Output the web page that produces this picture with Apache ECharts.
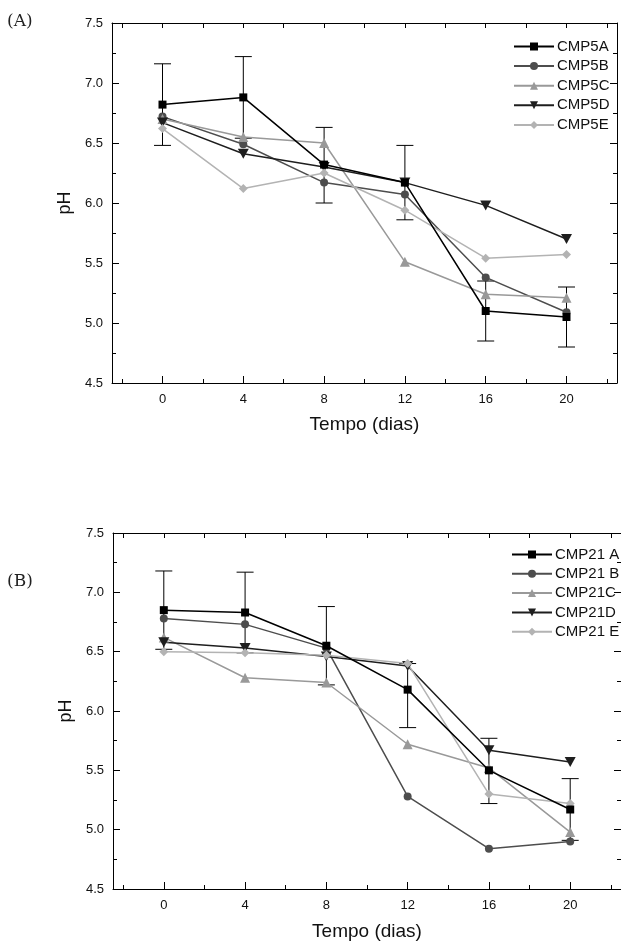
<!DOCTYPE html>
<html><head><meta charset="utf-8">
<script src="https://cdn.jsdelivr.net/npm/echarts@6/dist/echarts.min.js"></script>
<style>html,body{margin:0;padding:0;background:#fff}#c{width:621px;height:943px}</style>
</head><body><div id="c"></div>
<script>
// ---- Data ----
const days = [0, 4, 8, 12, 16, 20];
const xMajorTicks = [0, 4, 8, 12, 16, 20];
const xMinorTicks = [-2, 2, 6, 10, 14, 18, 22];
const xAllTicks = [-2, 0, 2, 4, 6, 8, 10, 12, 14, 16, 18, 20, 22];

const namesA = ['CMP5A', 'CMP5B', 'CMP5C', 'CMP5D', 'CMP5E'];
const cmp5A = [6.82, 6.88, 6.32, 6.17, 5.10, 5.05];
const cmp5B = [6.72, 6.49, 6.17, 6.07, 5.38, 5.09];
const cmp5C = [6.70, 6.55, 6.50, 5.51, 5.24, 5.21];
const cmp5D = [6.67, 6.41, 6.30, 6.17, 5.98, 5.70];
const cmp5E = [6.62, 6.12, 6.25, 5.94, 5.54, 5.57];
const cmp5AErrLow  = [6.48, 6.54, 6.00, 5.86, 4.85, 4.80];
const cmp5AErrHigh = [7.16, 7.22, 6.63, 6.48, 5.35, 5.30];

const namesB = ['CMP21 A', 'CMP21 B', 'CMP21C', 'CMP21D', 'CMP21 E'];
const cmp21A = [6.85, 6.83, 6.55, 6.18, 5.50, 5.17];
const cmp21B = [6.78, 6.73, 6.53, 5.28, 4.84, 4.90];
const cmp21C = [6.62, 6.28, 6.24, 5.72, 5.52, 4.98];
const cmp21D = [6.58, 6.53, 6.46, 6.38, 5.67, 5.57];
const cmp21E = [6.50, 6.49, 6.47, 6.40, 5.30, 5.22];
const cmp21AErrLow  = [6.52, 6.49, 6.22, 5.86, 5.22, 4.91];
const cmp21AErrHigh = [7.18, 7.17, 6.88, 6.40, 5.77, 5.43];

// ---- Styles ----
const colors = ['#000000', '#4d4d4d', '#999999', '#1e1e1e', '#b3b3b3'];
const symbols = ['rect', 'circle', 'triangle', 'path://M0,0 L10,0 L5,9 Z', 'diamond'];
const symbolSizes = [8, 8, 10, [11, 10], 9];
const FONT = 'Liberation Sans, Arial, sans-serif';

const grids = [
  { left: 112, top: 23, width: 505, height: 360 },
  { left: 113, top: 533, width: 513, height: 356 }
];

const xAxes = [], yAxes = [], series = [], legends = [];
const panels = [
  { names: namesA, data: [cmp5A, cmp5B, cmp5C, cmp5D, cmp5E], lo: cmp5AErrLow, hi: cmp5AErrHigh, nameGapX: 32, legendTop: 39, legendLeft: 513, legendGap: 4.6 },
  { names: namesB, data: [cmp21A, cmp21B, cmp21C, cmp21D, cmp21E], lo: cmp21AErrLow, hi: cmp21AErrHigh, nameGapX: 33, legendTop: 547, legendLeft: 511, legendGap: 4.3 }
];

panels.forEach((p, gi) => {
  const xi = xAxes.length, yi = yAxes.length;
  const axLine = { show: true, onZero: false, lineStyle: { color: '#000', width: 1 } };
  // bottom major
  xAxes.push({
    gridIndex: gi, type: 'value', position: 'bottom', min: -2.5, max: 22.5,
    axisLine: axLine,
    axisTick: { show: true, inside: true, length: 7, customValues: xMajorTicks, lineStyle: { color: '#000' } },
    axisLabel: { customValues: xMajorTicks, color: '#111', fontSize: 13, fontFamily: FONT, margin: 10 },
    splitLine: { show: false },
    name: 'Tempo (dias)', nameLocation: 'middle', nameGap: p.nameGapX,
    nameTextStyle: { fontSize: 19, fontFamily: FONT, color: '#111' }
  });
  // bottom minor
  xAxes.push({
    gridIndex: gi, type: 'value', position: 'bottom', min: -2.5, max: 22.5,
    axisLine: { show: false, onZero: false },
    axisTick: { show: true, inside: true, length: 4, customValues: xMinorTicks, lineStyle: { color: '#000' } },
    axisLabel: { show: false }, splitLine: { show: false }
  });
  // top
  xAxes.push({
    gridIndex: gi, type: 'value', position: 'top', min: -2.5, max: 22.5,
    axisLine: axLine,
    axisTick: { show: true, inside: true, length: 5, customValues: xAllTicks, lineStyle: { color: '#000' } },
    axisLabel: { show: false }, splitLine: { show: false }
  });
  // left y
  yAxes.push({
    gridIndex: gi, type: 'value', position: 'left', min: 4.5, max: 7.5, interval: 0.5,
    axisLine: axLine,
    axisTick: { show: true, inside: true, length: 7, lineStyle: { color: '#000' } },
    minorTick: { show: true, splitNumber: 2, length: 4, lineStyle: { color: '#000' } },
    axisLabel: { color: '#111', fontSize: 13, fontFamily: FONT, margin: 9, formatter: v => v.toFixed(1) },
    splitLine: { show: false }, minorSplitLine: { show: false },
    name: 'pH', nameLocation: 'middle', nameGap: 37, nameRotate: 90,
    nameTextStyle: { fontSize: 18, fontFamily: FONT, color: '#111' }
  });
  // right y
  yAxes.push({
    gridIndex: gi, type: 'value', position: 'right', min: 4.5, max: 7.5, interval: 0.5,
    axisLine: axLine,
    axisTick: { show: true, inside: true, length: 7, lineStyle: { color: '#000' } },
    minorTick: { show: true, splitNumber: 2, length: 4, lineStyle: { color: '#000' } },
    axisLabel: { show: false }, splitLine: { show: false }
  });

  // error bars
  series.push({
    type: 'custom', xAxisIndex: xi, yAxisIndex: yi, z: 1, silent: true,
    data: days.map((d, i) => [d, p.lo[i], p.hi[i]]),
    renderItem: (params, api) => {
      const x = api.value(0);
      const lo = api.coord([x, api.value(1)]);
      const hi = api.coord([x, api.value(2)]);
      const w = 8.5;
      const st = { stroke: '#000', lineWidth: 1 };
      return { type: 'group', children: [
        { type: 'line', shape: { x1: lo[0], y1: lo[1], x2: hi[0], y2: hi[1] }, style: st },
        { type: 'line', shape: { x1: lo[0] - w, y1: lo[1], x2: lo[0] + w, y2: lo[1] }, style: st },
        { type: 'line', shape: { x1: hi[0] - w, y1: hi[1], x2: hi[0] + w, y2: hi[1] }, style: st }
      ]};
    }
  });

  [0, 1, 2, 3, 4].forEach(k => {
    series.push({
      type: 'line', name: p.names[k], xAxisIndex: xi, yAxisIndex: yi,
      data: days.map((d, i) => [d, p.data[k][i]]),
      symbol: symbols[k], symbolSize: symbolSizes[k], showSymbol: true,
      lineStyle: { color: colors[k], width: 1.5 },
      itemStyle: { color: colors[k], borderWidth: 0 },
      z: k === 0 ? 5 : 3, animation: false
    });
  });

  legends.push({
    data: p.names, orient: 'vertical', left: p.legendLeft, top: p.legendTop,
    itemWidth: 40, itemHeight: 10, itemGap: p.legendGap, padding: 0,
    textStyle: { fontSize: 15, fontFamily: FONT, color: '#111', padding: [0, 0, 0, -2] },
    selectedMode: false
  });
});

const chart = echarts.init(document.getElementById('c'), null, { renderer: 'canvas' });
chart.setOption({
  animation: false,
  backgroundColor: '#fff',
  grid: grids,
  xAxis: xAxes,
  yAxis: yAxes,
  legend: legends,
  series: series,
  graphic: [
    { type: 'text', left: 7, top: 13, style: { text: '(A)', fontSize: 17, fontFamily: 'DejaVu Serif, Liberation Serif, serif', fill: '#222' } },
    { type: 'text', left: 7, top: 573, style: { text: '(B)', fontSize: 17, fontFamily: 'DejaVu Serif, Liberation Serif, serif', fill: '#222' } }
  ]
});
</script></body></html>
